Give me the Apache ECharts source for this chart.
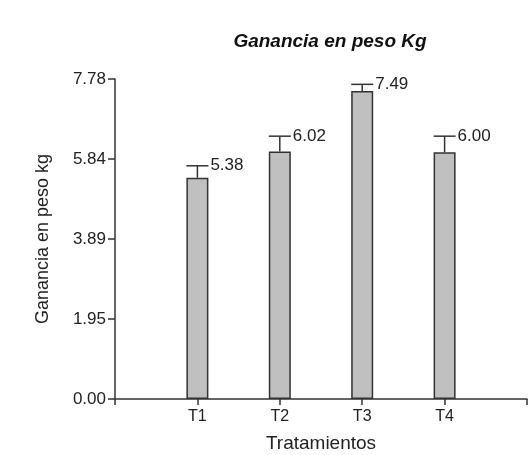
<!DOCTYPE html>
<html><head><meta charset="utf-8">
<script src="https://cdn.jsdelivr.net/npm/echarts@6/dist/echarts.min.js"></script>
<style>html,body{margin:0;padding:0;background:#fff}#c{width:528px;height:455px}</style>
</head><body><div id="c"></div>
<script>
var categories = ['T1','T2','T3','T4'];
var means = [5.38, 6.02, 7.49, 6.00];
var errors = [0.29, 0.37, 0.16, 0.39];
var labels = ['5.38','6.02','7.49','6.00'];
var yTickLabels = ['0.00','1.95','3.89','5.84','7.78'];
var yMax = 7.78;

var chart = echarts.init(document.getElementById('c'));
var barData = means.map(function(v,i){return [i+1, v];});
var errData = means.map(function(v,i){return [i+1, v, v+errors[i], i];});
var font = 'Liberation Sans, Arial, sans-serif';
chart.setOption({
  animation:false,
  title:{text:'Ganancia en peso Kg', left:325, textAlign:'center', top:27,
    textStyle:{fontFamily:font, fontSize:19, fontWeight:'bold', fontStyle:'italic', color:'#111'}},
  grid:{left:115, right:1, top:79, bottom:56, outerBoundsMode:'none', containLabel:false},
  xAxis:{type:'value', min:0, max:5, interval:1,
    name:'Tratamientos', nameLocation:'middle', nameGap:35,
    nameTextStyle:{fontFamily:font, fontSize:19, color:'#222'},
    axisLine:{lineStyle:{color:'#333', width:1.5}},
    axisTick:{show:true, length:6, lineStyle:{color:'#333', width:1.5}},
    splitLine:{show:false},
    axisLabel:{fontFamily:font, fontSize:16, color:'#222', margin:10,
      formatter:function(v){var i=Math.round(v)-1; return categories[i]||'';}}
  },
  yAxis:{type:'value', min:0, max:yMax, interval:yMax/4,
    name:'Ganancia en peso kg', nameLocation:'middle', nameGap:63,
    nameTextStyle:{fontFamily:font, fontSize:18, color:'#222'},
    axisLine:{show:true, lineStyle:{color:'#333', width:1.5}},
    axisTick:{show:true, length:7, lineStyle:{color:'#333', width:1.5}},
    splitLine:{show:false},
    axisLabel:{fontFamily:font, fontSize:17, color:'#222', margin:9,
      formatter:function(v){return yTickLabels[Math.round(v/(yMax/4))];}}
  },
  series:[
    {type:'bar', data:barData, barWidth:22,
      itemStyle:{color:'#c0c0c0', borderColor:'#333', borderWidth:1.5}},
    {type:'custom', data:errData, z:5,
      renderItem:function(params, api){
        var x=api.value(0), lo=api.coord([x, api.value(1)]), hi=api.coord([x, api.value(2)]);
        var idx=api.value(3);
        var hw=11;
        return {type:'group', children:[
          {type:'line', shape:{x1:lo[0], y1:lo[1], x2:hi[0], y2:hi[1]}, style:{stroke:'#333', lineWidth:1.5}},
          {type:'line', shape:{x1:hi[0]-hw, y1:hi[1], x2:hi[0]+hw, y2:hi[1]}, style:{stroke:'#333', lineWidth:1.5}},
          {type:'text', x:hi[0]+hw+2, y:hi[1], style:{text:labels[idx], fill:'#222', font:'17px '+font, textAlign:'left', textVerticalAlign:'middle'}}
        ]};
      }}
  ]
});
</script></body></html>
